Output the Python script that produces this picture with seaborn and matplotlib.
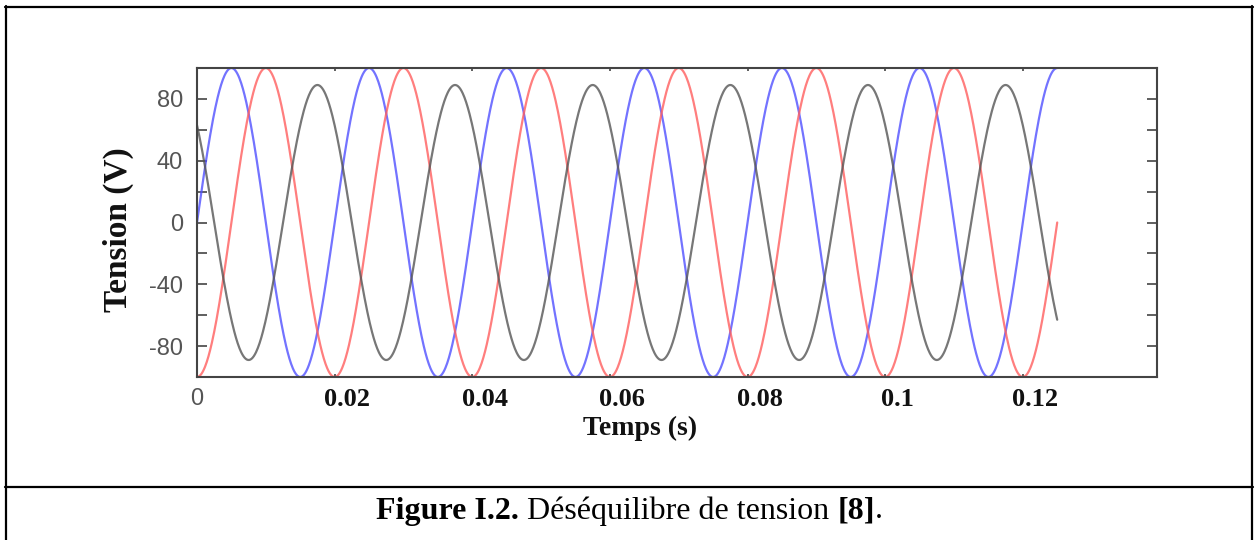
import numpy as np
import pandas as pd
import matplotlib
matplotlib.use("Agg")
import matplotlib.pyplot as plt
import matplotlib.transforms as mtransforms
from matplotlib.lines import Line2D
import seaborn as sns

# ---- data ----
phase_names = ["Va", "Vb", "Vc"]
amplitudes_v = [100, 100, 89]        # peak voltage of each phase (V)
phases_deg = [0, -90, 135]           # phase angle at t = 0 (deg)
freq_hz = 50                         # supply frequency
t_end_s = 0.125                      # end of the recording (s)
line_colors = ["#5050ff", "#ff5e5e", "#555555"]

x_ticks = [0, 0.02, 0.04, 0.06, 0.08, 0.1, 0.12]
x_tick_labels = ["0", "0.02", "0.04", "0.06", "0.08", "0.1", "0.12"]
y_ticks = [-80, -60, -40, -20, 0, 20, 40, 60, 80]
y_tick_labels = ["-80", "", "-40", "", "0", "", "40", "", "80"]

caption_bold = "Figure I.2."
caption_text = " Déséquilibre de tension "
caption_ref = "[8]"

# ---- build table ----
t = np.linspace(0, t_end_s, 1500)
frames = []
for name, amp, ph in zip(phase_names, amplitudes_v, phases_deg):
    v = amp * np.sin(2 * np.pi * freq_hz * t + np.deg2rad(ph))
    frames.append(pd.DataFrame({"t": t, "v": v, "phase": name}))
df = pd.concat(frames, ignore_index=True)

sns.set_theme(style="white")
plt.rcParams["font.family"] = ["Liberation Serif", "DejaVu Sans"]

W, H, DPI = 1259, 540, 100
fig = plt.figure(figsize=(W / DPI, H / DPI), dpi=DPI)
fig.patch.set_facecolor("white")

left, right, top, bottom = 197, 1157, 68, 377
ax = fig.add_axes([left / W, 1 - bottom / H, (right - left) / W, (bottom - top) / H])

sns.lineplot(data=df, x="t", y="v", hue="phase", palette=line_colors,
             linewidth=1.6, alpha=0.8, legend=False, ax=ax, sort=False)

ax.set_xlim(0, 0.1395)
ax.set_ylim(-100, 100)
ax.set_facecolor("white")
for s in ax.spines.values():
    s.set_color("#444444")
    s.set_linewidth(1.5)
    s.set_visible(True)

ax.set_yticks(y_ticks)
ax.set_yticklabels(y_tick_labels, family="Liberation Sans", color="#555555", fontsize=17)
ax.tick_params(axis="y", which="both", direction="in", length=7, width=1.2,
               color="#444444", right=True, left=True, pad=10)

ax.set_xticks(x_ticks)
ax.set_xticklabels(x_tick_labels)
ax.tick_params(axis="x", which="both", direction="in", length=2, width=1.2,
               color="#444444", top=True, bottom=True, pad=8)
offset = mtransforms.ScaledTranslation(9 / 72, 0, fig.dpi_scale_trans)
for i, lab in enumerate(ax.get_xticklabels()):
    if i == 0:
        lab.set_family("Liberation Sans")
        lab.set_color("#555555")
        lab.set_fontsize(17)
        lab.set_fontweight("normal")
    else:
        lab.set_family("Liberation Serif")
        lab.set_fontweight("bold")
        lab.set_color("#111111")
        lab.set_fontsize(19)
        lab.set_transform(lab.get_transform() + offset)

ax.set_xlabel("Temps (s)", fontsize=20, fontweight="bold", color="#111111")
ax.xaxis.set_label_coords((640 - left) / (right - left), (bottom - 428) / (bottom - top))
ax.set_ylabel("Tension (V)", fontsize=24, fontweight="bold", color="#111111")
ax.yaxis.set_label_coords((118 - left) / (right - left), (bottom - 230) / (bottom - top))
ax.xaxis.label.set_va("center")
ax.yaxis.label.set_va("center")

# ---- table-like frame ----
def hline(y, x0, x1):
    fig.add_artist(Line2D([x0 / W, x1 / W], [1 - y / H, 1 - y / H], color="black",
                          linewidth=1.6, transform=fig.transFigure))

def vline(x, y0, y1):
    fig.add_artist(Line2D([x / W, x / W], [1 - y0 / H, 1 - y1 / H], color="black",
                          linewidth=1.6, transform=fig.transFigure))

hline(7, 5, 1253)
hline(487, 5, 1253)
vline(6, 6, 540)
vline(1252, 6, 540)

# ---- caption ----
cap_y = 1 - 511 / H
fs = 23
t1 = fig.text(0, cap_y, caption_bold, fontsize=fs, fontweight="bold", va="center",
              family="Liberation Serif", color="black")
t2 = fig.text(0, cap_y, caption_text, fontsize=fs, va="center",
              family="Liberation Serif", color="black")
t3 = fig.text(0, cap_y, caption_ref, fontsize=fs, fontweight="bold", va="center",
              family="Liberation Serif", color="black")
t4 = fig.text(0, cap_y, ".", fontsize=fs, va="center",
              family="Liberation Serif", color="black")
fig.canvas.draw()
r = fig.canvas.get_renderer()
widths = [tt.get_window_extent(r).width for tt in (t1, t2, t3, t4)]
total = sum(widths)
x = (W - total) / 2
for tt, w in zip((t1, t2, t3, t4), widths):
    tt.set_x(x / W)
    x += w

fig.savefig("out.png", dpi=DPI, facecolor="white")
